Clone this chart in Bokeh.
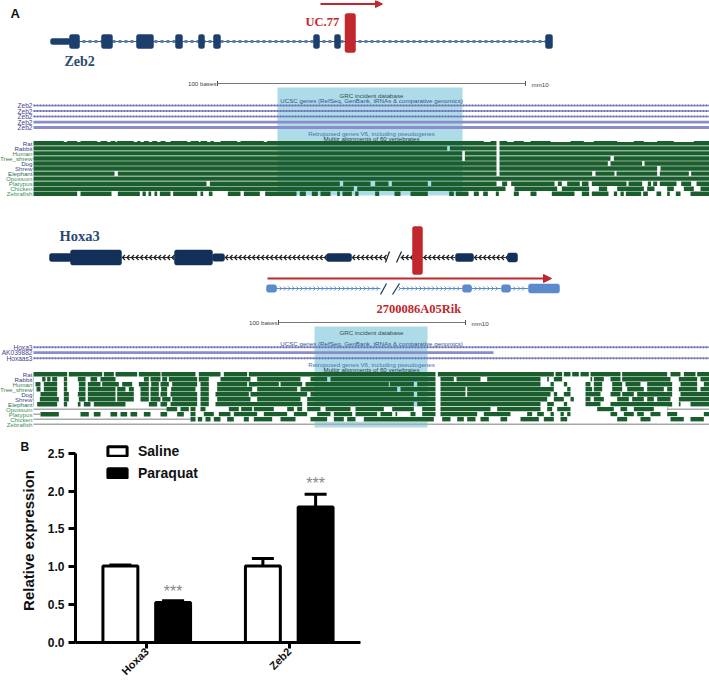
import numpy as np
from bokeh.embed import file_html
from bokeh.resources import INLINE
from bokeh.plotting import figure
from bokeh.layouts import column
from bokeh.core.properties import value
from bokeh.models import (Range1d, Arrow, NormalHead, Whisker, TeeHead, ColumnDataSource, Legend, LegendItem,
                          FixedTicker)

# ---- panel B values
genes = ["Hoxa3", "Zeb2"]
saline = [1.01, 1.01]
paraquat = [0.53, 1.79]
saline_err = [0.015, 0.10]
paraquat_err = [0.02, 0.17]
y_ticks = [0, 0.5, 1.0, 1.5, 2.0, 2.5]

# ---- panel A: species tracks
species = ["Rat", "Rabbit", "Human", "Tree_shrew", "Dog", "Shrew", "Elephant", "Opossum", "Platypus", "Chicken", "Zebrafish"]
species_colors = ["#3b3b80", "#3b3b80", "#3f7f50", "#3f7f50", "#2f3f80", "#4a4a90", "#2f6f50", "#3f8f60", "#3f8f60", "#3f8f60", "#3f8f60"]

# alignment gaps of the Zeb2 block, genome units (1/3 px), left and right halves
ZEB2_GAPS_L = {
    "Elephant": [(342, 352)],
    "Platypus": [(618, 628), (1018, 1028)],
    "Zebrafish": [(230, 240), (333, 352), (418, 426), (436, 444), (452, 462), (470, 478), (510, 518), (590, 600),
                  (608, 625), (636, 682), (720, 730), (778, 794), (888, 898), (916, 934), (952, 960), (990, 1010),
                  (1018, 1026), (1058, 1064)],
}
ZEB2_GAPS_R = {
    "Rat": [(438, 447)],
    "Rabbit": [(290, 298), (438, 447)],
    "Human": [(335, 343), (438, 447)],
    "Tree_shrew": [(335, 343), (438, 447), (780, 790)],
    "Dog": [(438, 447), (772, 780), (875, 882)],
    "Shrew": [(438, 447), (920, 930)],
    "Elephant": [(438, 447), (725, 735), (792, 798), (920, 928), (1015, 1022)],
    "Platypus": [(60, 74), (114, 124), (232, 242), (438, 455), (470, 482), (612, 622), (634, 650), (688, 694), (714, 724),
                 (828, 834), (875, 892), (902, 908), (920, 928), (978, 992), (1022, 1038)],
    "Chicken": [(10, 20), (465, 492), (620, 634), (716, 745), (770, 800), (880, 890), (912, 950), (970, 1000), (1030, 1050)],
    "Zebrafish": [(4, 12), (24, 74), (86, 132), (150, 180), (232, 296), (310, 316), (354, 370), (385, 398), (412, 436),
                  (445, 490), (505, 540), (558, 604), (672, 694), (716, 724), (774, 790), (800, 810), (820, 826),
                  (872, 878), (892, 918), (932, 950), (958, 976), (990, 1020)],
}
# small nicks along the top edge of the Zeb2 rat row
ZEB2_RAT_NICKS_L = [(190, 200), (230, 240), (290, 300), (320, 330), (345, 350), (400, 410), (420, 430), (445, 455), (470, 480),
                    (495, 510), (560, 570), (595, 600), (620, 630), (640, 660), (710, 720), (790, 800)]
ZEB2_RAT_NICKS_R = [(400, 420), (470, 490), (520, 540), (600, 660), (700, 730), (800, 850), (880, 920), (970, 1030)]
# alignment gaps of the Hoxa3 block
HOXA_GAPS_L = {
    "Rat": [(200, 205), (305, 310), (340, 345), (410, 415), (480, 483), (585, 595), (660, 670), (740, 745)],
    "Rabbit": [(100, 125), (135, 140), (150, 155), (170, 190), (200, 232), (255, 270), (290, 300), (345, 430), (445, 450),
               (480, 485), (500, 505), (590, 595), (625, 660), (750, 770), (900, 930), (980, 990)],
    "Human": [(100, 105), (120, 130), (170, 190), (200, 235), (255, 262), (300, 305), (355, 365), (395, 415), (445, 452),
              (475, 480), (505, 515), (590, 600), (625, 650), (740, 745), (835, 840), (905, 915)],
    "Tree_shrew": [(100, 108), (120, 130), (170, 190), (200, 235), (255, 262), (345, 350), (375, 385), (400, 420), (445, 450),
                   (475, 482), (500, 512), (585, 600), (625, 650), (755, 770), (890, 900)],
    "Dog": [(100, 120), (170, 190), (205, 232), (255, 262), (345, 350), (400, 420), (445, 450), (475, 480), (500, 510),
            (590, 600), (625, 645), (745, 750), (920, 930)],
    "Shrew": [(100, 118), (175, 190), (205, 235), (255, 262), (345, 350), (400, 420), (445, 450), (480, 485), (510, 515),
              (590, 600), (625, 650), (750, 770), (900, 920)],
    "Elephant": [(100, 110), (170, 190), (200, 232), (240, 250), (270, 280), (375, 445), (470, 480), (500, 510), (590, 600),
                 (625, 645), (905, 920)],
    "Opossum": [(530, 540), (565, 570), (585, 600), (615, 685), (715, 722), (755, 760), (820, 860), (880, 890), (905, 920),
                (960, 975), (1050, 1065)],
    "Platypus": [(175, 240), (265, 280), (300, 330), (350, 360), (380, 390), (410, 430), (450, 480), (500, 530), (550, 570),
                 (585, 610), (640, 655), (690, 700), (770, 790), (860, 880), (920, 950), (990, 1000)],
    "Chicken": [(585, 592), (605, 615), (630, 640), (660, 680), (700, 730), (745, 760), (815, 840), (885, 930), (980, 1000),
                (1030, 1040)],
}
HOXA_GAPS_R = {
    "Rat": [(255, 262), (610, 615), (635, 640), (660, 665), (685, 690), (715, 720), (810, 815), (950, 960), (990, 1000),
            (1035, 1040)],
    "Rabbit": [(255, 270), (310, 318), (390, 410), (570, 590), (595, 610), (635, 720), (725, 730), (760, 780), (810, 815),
               (960, 985), (1040, 1050)],
    "Human": [(115, 118), (190, 200), (255, 270), (570, 600), (610, 640), (650, 705), (720, 730), (755, 785), (815, 825),
              (870, 890), (965, 990), (1040, 1060)],
    "Tree_shrew": [(140, 150), (255, 270), (345, 350), (610, 650), (660, 705), (725, 730), (755, 785), (815, 830), (880, 890),
                   (940, 950), (965, 985), (1040, 1050)],
    "Dog": [(190, 200), (255, 270), (345, 350), (600, 610), (620, 640), (660, 705), (750, 780), (810, 815), (850, 860),
            (965, 990)],
    "Shrew": [(255, 270), (590, 610), (640, 660), (670, 705), (720, 730), (760, 800), (835, 845), (880, 890), (910, 920),
              (960, 985)],
    "Elephant": [(190, 200), (255, 270), (570, 590), (610, 640), (650, 705), (750, 780), (965, 985), (990, 1020)],
    "Opossum": [(0, 15), (100, 125), (190, 215), (255, 270), (420, 440), (570, 590), (605, 620), (660, 740), (790, 810),
                (830, 850), (910, 950)],
    "Platypus": [(5, 15), (80, 90), (125, 135), (140, 180), (195, 215), (255, 270), (380, 400), (480, 530), (545, 560),
                 (580, 600), (610, 630), (640, 650), (660, 780), (800, 820), (850, 860), (880, 900), (930, 950), (980, 1060)],
    "Chicken": [(15, 40), (250, 275), (300, 320), (340, 350), (375, 390), (415, 450), (470, 510), (565, 580), (610, 630),
                (650, 800), (830, 870), (900, 960), (1000, 1020), (1060, 1077)],
}
# green extent of each Hoxa3 row: grey where nothing aligns
HOXA_SPANS = {"Opossum": (166, 667), "Platypus": (40, 709), "Chicken": (190, 709), "Zebrafish": None}

# gene models: exons (start, end, half height)
zeb2_utr = [(50, 70)]
zeb2_exons = [(69, 79), (101, 112), (136, 153), (175, 182), (198, 204), (213, 220), (313, 319), (334, 340), (545, 552)]
hoxa_blocks = [(49, 71, 4), (70, 121, 7.5), (174, 212, 7.5), (212, 224, 3.7), (326, 351, 4), (455, 473, 4), (507, 517, 4.5)]
hoxa_introns = [(121, 174), (224, 326), (351, 385), (400, 455), (473, 507)]
rik_blocks = [(266, 276, 3.7), (462, 471, 3.7), (501, 510, 3.7), (528, 559, 4.5)]
rik_introns = [(276, 380), (399, 462), (471, 501), (510, 528)]

NAVY, DARK, RED, BLUE = "#1d3f6e", "#12305a", "#c1272d", "#5b8bcc"
GREEN, CYAN, PURPLE, TXT = "#1b5e2e", "#aedbe8", "#8b8dca", "#34548a"
SANS, SERIF = "Liberation Sans", "Liberation Serif"

a = figure(width=709, height=460, x_range=Range1d(0, 709), y_range=Range1d(460, 0), x_axis_type=None, y_axis_type=None,
           toolbar_location=None, output_backend="svg", min_border=0, outline_line_color=None, frame_align=False)
a.grid.visible = False


def txt(x, y, s, color, size, align="left", font=SANS, style="normal"):
    a.text([x], [y], text=[s], text_color=color, text_font=value(font), text_font_size=size, text_align=align,
           text_baseline="middle", text_font_style=style)


def blocks(items, y, color):
    a.quad(left=[i[0] for i in items], right=[i[1] for i in items], top=[y - i[2] for i in items],
           bottom=[y + i[2] for i in items], fill_color=color, line_color=color, line_width=0.5, border_radius=2)


def chevrons(spans, y, s, step, color, width, pointing):
    xs, ys = [], []
    for x0, x1 in spans:
        for x in np.arange(x0 + 1, x1 - 1, step):
            xs.append([x + s * pointing * -1, x, x + s * pointing * -1])
            ys.append([y - s, y, y + s])
    a.multi_line(xs, ys, line_color=color, line_width=width)


def segments(spans, gaps):
    out = []
    x0, x1 = spans
    cur = x0
    for g0, g1 in sorted(gaps):
        if g0 > cur:
            out.append((cur, min(g0, x1)))
        cur = max(cur, g1)
    if cur < x1:
        out.append((cur, x1))
    return out


def track_block(first_y, pitch, gaps_l, gaps_r, spans=None):
    spans = spans or {}
    for i, sp in enumerate(species):
        y = first_y + i * pitch
        gaps = [(g0 / 3, g1 / 3) for g0, g1 in gaps_l.get(sp, [])] + [(350 + g0 / 3, 350 + g1 / 3) for g0, g1 in gaps_r.get(sp, [])]
        span = spans.get(sp, (33, 709))
        txt(32, y, sp, species_colors[i], "6.2px", "right")
        if span is None or span != (33, 709):
            a.segment([33], [y], [709], [y], line_color="#aaaaaa", line_width=1.6)
        if span is None:
            continue
        if span != (33, 709):
            a.quad(left=[span[0]], right=[span[1]], top=[y - 2.6], bottom=[y + 2.6], fill_color="white", line_color=None)
        seg = segments(span, gaps)
        a.quad(left=[s[0] for s in seg], right=[s[1] for s in seg], top=y - 2.2, bottom=y + 2.2,
               fill_color=GREEN, line_color=None)


def labels_block(y_grc, y_ucsc, y_retro, y_multiz):
    txt(371, y_grc, "GRC incident database", "#3a4a55", "6.2px", "center")
    txt(371, y_ucsc, "UCSC genes (RefSeq, GenBank, tRNAs & comparative genomics)", TXT, "6.2px", "center")
    txt(371, y_retro, "Retroposed genes V6, including pseudogenes", "#4a70a8", "6.2px", "center")
    txt(371, y_multiz, "Multiz alignments of 60 vertebrates", "#2a3a50", "6.2px", "center")


def scale_bar(x0, x1, y):
    a.segment([x0], [y], [x1], [y], line_color="#777777", line_width=1)
    a.segment([x0, x1], [y - 2.5] * 2, [x0, x1], [y + 2.5] * 2, line_color="#555555", line_width=1)
    txt(x0 - 1, y, "100 bases", "#444444", "6.2px", "right")
    txt(x1 + 6, y + 1, "mm10", "#444444", "6.2px")


def dotted(x0, x1, y, label):
    a.segment([x0], [y], [x1], [y], line_color=PURPLE, line_width=0.8)
    a.line([x0, x1], [y, y], line_color="#6c6eb5", line_width=2, line_dash="2 1")
    txt(32, y, label, "#45458f", "6.6px", "right")


def solid(x0, x1, y, label):
    a.segment([x0], [y], [x1], [y], line_color=PURPLE, line_width=2.8)
    txt(32, y, label, "#45458f", "6.6px", "right")


# ---- Zeb2 gene
txt(10, 13, "A", "#111111", "13px", style="bold")
txt(20, 446, "B", "#111111", "12px", style="bold")
a.add_layout(Arrow(end=NormalHead(size=7, fill_color=RED, line_color=RED), x_start=320, y_start=3.5, x_end=382, y_end=3.5,
                   line_color=RED, line_width=2))
txt(305, 21.5, "UC.77", RED, "12.5px", font=SERIF, style="bold")
a.segment([70], [41], [548], [41], line_color="#34557f", line_width=1.2)
a.line([70, 548], [41, 41], line_color="#5f80ad", line_width=3.2, line_dash="3 3")
blocks([(50, 70, 3)], 41, NAVY)
blocks([(e[0], e[1], 7) for e in zeb2_exons], 41, NAVY)
blocks([(344.5, 355, 19.5)], 32.5, RED)
txt(64, 60.5, "Zeb2", "#2a4a73", "14px", font=SERIF, style="bold")

scale_bar(217, 525, 83)
a.quad(left=[277], right=[462], top=[87], bottom=[195], fill_color=CYAN, line_color=None)
labels_block(95, 100, 133, 138)
for yy in (105, 110.5, 116):
    dotted(33, 709, yy, "Zeb2")
for yy in (121.7, 127):
    solid(33, 709, yy, "Zeb2")
track_block(142.8, 5.05, ZEB2_GAPS_L, ZEB2_GAPS_R)
nicks = [(n0 / 3, n1 / 3) for n0, n1 in ZEB2_RAT_NICKS_L] + [(350 + n0 / 3, 350 + n1 / 3) for n0, n1 in ZEB2_RAT_NICKS_R]
a.quad(left=[n[0] for n in nicks], right=[n[1] for n in nicks], top=140.5, bottom=141.5, fill_color="white", line_color=None)

# ---- Hoxa3 gene
txt(59, 235, "Hoxa3", "#2a4a73", "14.5px", font=SERIF, style="bold")
a.segment([i[0] for i in hoxa_introns], [257] * 5, [i[1] for i in hoxa_introns], [257] * 5, line_color="#333333", line_width=1)
chevrons(hoxa_introns, 257, 2.5, 4.5, "#222222", 1.3, -1)
blocks(hoxa_blocks, 257, DARK)
a.segment([385, 396], [262, 262], [389, 401], [251, 251], line_color="#222222", line_width=1.2)
blocks([(412, 422, 24)], 250, RED)
a.add_layout(Arrow(end=NormalHead(size=8, fill_color=RED, line_color=RED), x_start=267, y_start=278, x_end=551, y_end=278,
                   line_color=RED, line_width=2))
a.segment([i[0] for i in rik_introns], [288] * 4, [i[1] for i in rik_introns], [288] * 4, line_color=BLUE, line_width=1)
chevrons(rik_introns, 288, 2, 4.2, "#4f82c8", 0.9, 1)
blocks(rik_blocks, 288, BLUE)
a.segment([380, 392], [294, 294], [386, 399], [283, 283], line_color="#1d3557", line_width=1.2)
txt(376, 308, "2700086A05Rik", RED, "12.5px", font=SERIF, style="bold")

scale_bar(278, 465, 322)
a.quad(left=[314], right=[427], top=[326], bottom=[427], fill_color=CYAN, line_color=None)
labels_block(331.5, 342.5, 364, 369)
dotted(33, 709, 346.7, "Hoxa3")
solid(33, 493, 352.2, "AK039882")
dotted(33, 709, 357.8, "Hoxaas3")
track_block(373.7, 5.0, HOXA_GAPS_L, HOXA_GAPS_R, HOXA_SPANS)

# ---- panel B
b = figure(width=709, height=254, x_range=Range1d(0.5, 2.5), y_range=Range1d(0, 2.695), toolbar_location=None,
           output_backend="svg", min_border_left=75, min_border_right=349, min_border_top=8, min_border_bottom=42,
           outline_line_color=None, frame_align=False, border_fill_color=None, background_fill_color=None,
           margin=(-30, 0, 0, 0))
b.grid.visible = False
pos = np.array([1.0, 2.0])
off = 0.185
bw = 0.245
r1 = b.vbar(x=pos - off, top=saline, width=bw, fill_color="white", line_color="black", line_width=3)
r2 = b.vbar(x=pos + off, top=paraquat, width=bw, fill_color="black", line_color="black", line_width=3)
for xs, ys, es in ((pos - off, saline, saline_err), (pos + off, paraquat, paraquat_err)):
    src = ColumnDataSource(dict(x=xs, lo=ys, hi=np.array(ys) + np.array(es)))
    b.add_layout(Whisker(source=src, base="x", lower="lo", upper="hi", level="underlay", line_color="black", line_width=3,
                         lower_head=None, upper_head=TeeHead(size=22, line_color="black", line_width=3)))
b.text(pos + off, np.array(paraquat) + np.array(paraquat_err) + np.array([0.12, 0.14]), text=["***", "***"], text_color="#888888",
       text_font=value(SANS), text_font_size="16px", text_align="center", text_baseline="middle")

for ax in (b.xaxis[0], b.yaxis[0]):
    ax.axis_line_width = 3
    ax.axis_line_color = "black"
    ax.major_tick_line_width = 3
    ax.major_tick_line_color = "black"
    ax.major_tick_in = 0
    ax.minor_tick_line_color = None
    ax.major_label_text_font = SANS
    ax.major_label_text_font_style = "bold"
    ax.major_label_text_color = "#111111"
b.yaxis[0].bounds = (0, 2.5)
b.yaxis[0].major_tick_out = 7
b.xaxis[0].major_tick_out = 6
b.yaxis[0].ticker = FixedTicker(ticks=y_ticks)
b.yaxis[0].major_label_text_font_size = "12px"
b.yaxis[0].major_label_overrides = {t: f"{t:.1f}" for t in y_ticks}
b.yaxis[0].major_label_standoff = 4
b.yaxis[0].axis_label = "Relative expression"
b.yaxis[0].axis_label_text_font = SANS
b.yaxis[0].axis_label_text_font_style = "bold"
b.yaxis[0].axis_label_text_font_size = "15px"
b.yaxis[0].axis_label_text_color = "#111111"
b.yaxis[0].axis_label_standoff = 8
b.xaxis[0].ticker = FixedTicker(ticks=[1, 2])
b.xaxis[0].major_label_overrides = {1: genes[0], 2: genes[1]}
b.xaxis[0].major_label_orientation = np.pi / 4
b.xaxis[0].major_label_text_font_size = "11px"
b.xaxis[0].major_label_standoff = 1

legend = Legend(items=[LegendItem(label="Saline", renderers=[r1]), LegendItem(label="Paraquat", renderers=[r2])],
                location=(30, 161), orientation="vertical", background_fill_alpha=0, border_line_alpha=0, padding=0, margin=0,
                glyph_width=24, glyph_height=12, label_height=14, spacing=6, label_standoff=9, label_text_font=SANS,
                label_text_font_style="bold", label_text_font_size="14px", label_text_color="#111111")
b.add_layout(legend, "center")

page = column(a, b, spacing=0)
open("out.html", "w").write(file_html(page, INLINE))
